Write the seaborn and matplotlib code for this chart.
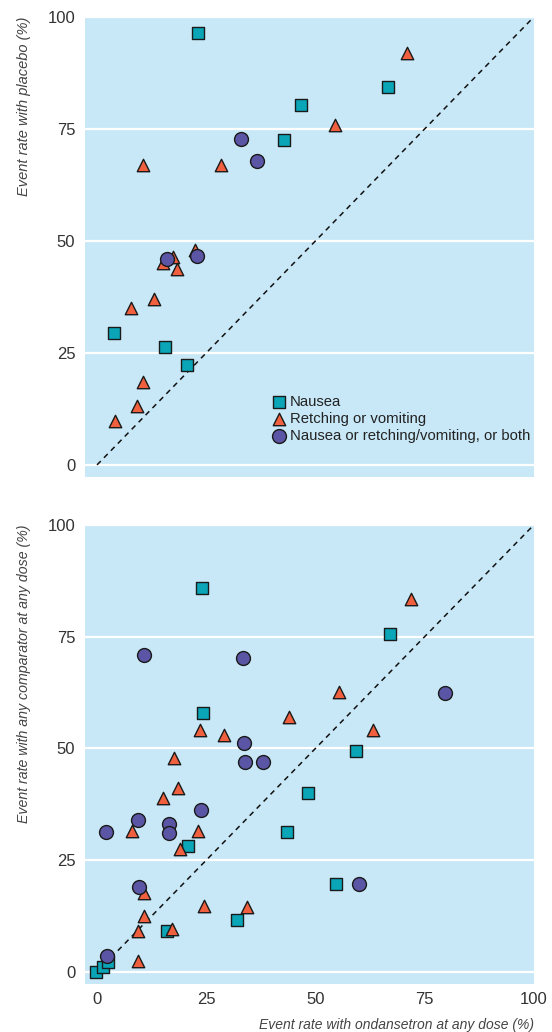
import pandas as pd
import seaborn as sns
import matplotlib.pyplot as plt

# top panel: ondansetron vs placebo
top_nausea_x = [23.2, 46.6, 66.7, 42.7, 3.9, 15.6, 20.6]
top_nausea_y = [96.4, 80.4, 84.4, 72.5, 29.5, 26.4, 22.3]
top_retch_x = [10.5, 28.4, 70.9, 54.6, 22.5, 17.5, 15.2, 18.3, 13.1, 7.8, 10.5, 9.1, 4.1]
top_retch_y = [67.0, 67.0, 92.0, 75.9, 48.0, 46.4, 45.1, 43.8, 37.1, 35.0, 18.5, 13.2, 9.8]
top_both_x = [33.0, 36.7, 16.1, 23.0]
top_both_y = [72.8, 67.8, 46.0, 46.7]

# bottom panel: ondansetron vs any comparator
bot_nausea_x = [24.0, 24.2, 67.0, 59.4, 48.2, 43.6, 54.8, 20.9, 32.1, 16.1, -0.2, 1.4, 2.5]
bot_nausea_y = [85.9, 57.9, 75.6, 49.4, 40.0, 31.3, 19.7, 28.2, 11.6, 9.2, 0.0, 1.1, 2.2]
bot_retch_x = [23.6, 29.1, 17.7, 71.8, 55.3, 44.0, 63.3, 18.6, 15.2, 8.1, 23.1, 19.0,
               10.8, 24.5, 34.3, 10.8, 9.3, 17.1, 9.4]
bot_retch_y = [54.1, 53.0, 47.9, 83.4, 62.6, 57.0, 54.1, 41.2, 38.9, 31.5, 31.5, 27.5,
               17.7, 14.8, 14.6, 12.5, 9.2, 9.6, 2.5]
bot_both_x = [10.8, 33.5, 33.7, 33.9, 37.9, 79.6, 59.9, 23.9, 9.3, 16.4, 2.1, 16.4, 9.5, 2.2]
bot_both_y = [70.9, 70.2, 51.2, 47.0, 47.0, 62.4, 19.7, 36.2, 34.0, 33.1, 31.3, 31.1, 19.0, 3.6]

outcomes = ["Nausea", "Retching or vomiting", "Nausea or retching/vomiting, or both"]
ticks = [0, 25, 50, 75, 100]


def make_df(sets):
    rows = []
    for name, xs, ys in zip(outcomes, *zip(*sets)):
        for x, y in zip(xs, ys):
            rows.append({"x": x, "y": y, "outcome": name})
    return pd.DataFrame(rows)


df_top = make_df([(top_nausea_x, top_nausea_y), (top_retch_x, top_retch_y), (top_both_x, top_both_y)])
df_bot = make_df([(bot_nausea_x, bot_nausea_y), (bot_retch_x, bot_retch_y), (bot_both_x, bot_both_y)])

palette = {outcomes[0]: "#0aa6b8", outcomes[1]: "#f0603e", outcomes[2]: "#5a55a4"}
markers = {outcomes[0]: "s", outcomes[1]: "^", outcomes[2]: "o"}
sizes = {outcomes[0]: 72, outcomes[1]: 80, outcomes[2]: 100}

sns.set_style("white")
plt.rcParams["font.family"] = ["Liberation Sans Narrow", "Liberation Sans", "DejaVu Sans"]

fig = plt.figure(figsize=(5.52, 10.32), dpi=100)
ax1 = fig.add_axes([0.154, 0.5378, 0.813, 0.4457])
ax2 = fig.add_axes([0.154, 0.0465, 0.813, 0.4448])

for ax, df in [(ax1, df_top), (ax2, df_bot)]:
    ax.set_facecolor("#c8e8f7")
    for name in outcomes:
        sub = df[df["outcome"] == name]
        sns.scatterplot(data=sub, x="x", y="y", color=palette[name], marker=markers[name],
                        s=sizes[name], edgecolor="#1a1a1a", linewidth=1.0, ax=ax,
                        label=name, zorder=3)
    ax.plot([0, 100], [0, 100], ls=(0, (3.5, 3)), color="#111111", lw=1.1, zorder=2)
    ax.set_xlim(-2.75, 100)
    ax.set_ylim(-2.7, 100)
    ax.set_xticks(ticks)
    ax.set_yticks(ticks)
    ax.grid(axis="y", color="white", lw=1.6)
    ax.grid(axis="x", visible=False)
    ax.set_axisbelow(True)
    for sp in ax.spines.values():
        sp.set_visible(False)
    ax.tick_params(axis="x", direction="in", colors="white", length=3, width=1.2,
                   labelcolor="#333333", labelsize=12, pad=6)
    ax.tick_params(axis="y", length=0, labelcolor="#333333", labelsize=12, pad=7)
    ax.set_xlabel("")
    ax.get_legend().remove()

ax1.tick_params(labelbottom=False)
ax1.set_ylabel("Event rate with placebo (%)", loc="top", style="italic",
               fontsize=10.5, color="#444444", labelpad=12)
ax2.set_ylabel("Event rate with any comparator at any dose (%)", loc="top", style="italic",
               fontsize=10.2, color="#444444", labelpad=12)
ax2.set_xlabel("Event rate with ondansetron at any dose (%)", loc="right", style="italic",
               fontsize=10, color="#444444", labelpad=8)

handles, labels = ax1.get_legend_handles_labels()
ax1.legend(handles, labels, loc="upper left", bbox_to_anchor=(0.40, 0.195), frameon=False,
           fontsize=10.7, handletextpad=0.2, labelspacing=0.2, borderpad=0,
           handlelength=1.0, markerscale=1.0, labelcolor="#222222")

fig.savefig("out.png", dpi=100)
